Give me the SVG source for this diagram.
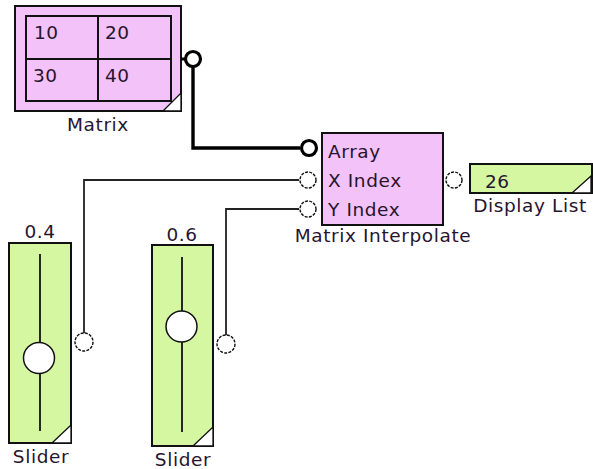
<svg xmlns="http://www.w3.org/2000/svg" width="593" height="469" viewBox="0 0 593 469">
<style>
text{font-family:"DejaVu Sans",Verdana,sans-serif;font-size:18.5px;letter-spacing:0.6px;fill:#28142e}
.lbl{text-anchor:middle}
.pink{fill:#f2c2f8;stroke:#111;stroke-width:2}
.green{fill:#d6f7a2;stroke:#111;stroke-width:2}
.corner{fill:#fff;stroke:#111;stroke-width:1.3}
.port{fill:#fff;stroke:#111;stroke-width:1.4;stroke-dasharray:3 1.3}
.portb{fill:#fff;stroke:#000;stroke-width:3.2}
.grid{fill:none;stroke:#111;stroke-width:2}
.thin{fill:none;stroke:#222;stroke-width:1.8}
.thick{fill:none;stroke:#000;stroke-width:3.4}
.track{stroke:#111;stroke-width:1.8}
.knob{fill:#fff;stroke:#111;stroke-width:1.5}
</style>
<g id="connectors">
<polyline class="thick" points="193,59 193,148 300,148"/>
<polyline class="thin" points="84,342 84,180 299,180"/>
<polyline class="thin" points="226,344 226,209 299,209"/>
</g>
<g id="matrix">
<rect class="pink" x="15" y="6" width="166" height="105"/>
<polygon class="corner" points="163,111 181,93 181,111"/>
<rect class="grid" x="26" y="16" width="145" height="85"/>
<line class="grid" x1="98" y1="16" x2="98" y2="101"/>
<line class="grid" x1="26" y1="59" x2="171" y2="59"/>
<text x="34" y="39">10</text>
<text x="105" y="39">20</text>
<text x="33" y="82">30</text>
<text x="105" y="82">40</text>
<text class="lbl" x="98" y="131">Matrix</text>
<line x1="181" y1="59" x2="185" y2="59" stroke="#000" stroke-width="3"/>
<circle class="portb" cx="193" cy="59" r="7.5"/>
</g>
<g id="matrix-interpolate">
<rect class="pink" x="322" y="133" width="121" height="92"/>
<circle class="portb" cx="309" cy="148" r="7.5"/>
<circle class="port" cx="308" cy="180" r="8"/>
<circle class="port" cx="308" cy="209" r="8"/>
<circle class="port" cx="454" cy="180" r="8"/>
<text x="328" y="158">Array</text>
<text x="328" y="187">X Index</text>
<text x="328" y="216">Y Index</text>
<text class="lbl" x="383" y="242">Matrix Interpolate</text>
</g>
<g id="display-list">
<rect class="green" x="470" y="164" width="122" height="29"/>
<polygon class="corner" points="572,193 591,176 591,193"/>
<text x="485" y="188">26</text>
<text class="lbl" x="530" y="212">Display List</text>
</g>
<g id="slider1">
<rect class="green" x="9" y="243" width="62" height="200"/>
<polygon class="corner" points="52,443 71,425 71,443"/>
<line class="track" x1="40" y1="254" x2="40" y2="431"/>
<circle class="knob" cx="39" cy="358" r="15.5"/>
<circle class="port" cx="84" cy="342" r="9"/>
<text class="lbl" x="40" y="238">0.4</text>
<text class="lbl" x="41" y="463">Slider</text>
</g>
<g id="slider2">
<rect class="green" x="152" y="245" width="61" height="201"/>
<polygon class="corner" points="193,446 213,427 213,446"/>
<line class="track" x1="182" y1="257" x2="182" y2="432"/>
<circle class="knob" cx="181.5" cy="326.5" r="15.5"/>
<circle class="port" cx="226" cy="344" r="9"/>
<text class="lbl" x="182" y="241">0.6</text>
<text class="lbl" x="183" y="466">Slider</text>
</g>
</svg>
